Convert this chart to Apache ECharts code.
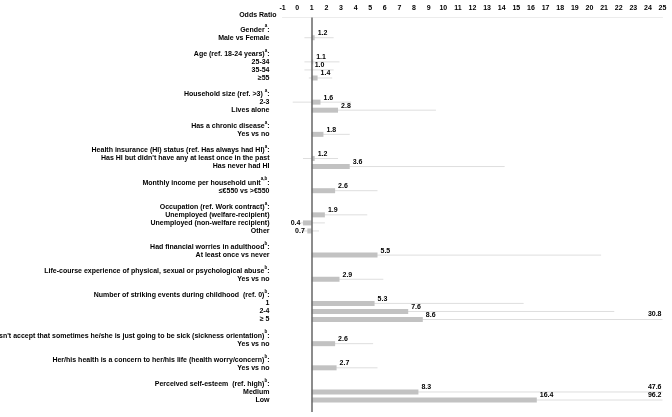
<!DOCTYPE html>
<html>
<head>
<meta charset="utf-8">
<script src="https://cdn.jsdelivr.net/npm/echarts@6/dist/echarts.min.js"></script>
<style>
html,body{margin:0;padding:0;background:#fff;}
#chart{width:672px;height:417px;}
</style>
</head>
<body>
<div id="chart"></div>
<script>
// Row labels (top to bottom); '' = spacer row
const rowLabels = [
  '',
  'Gender', 'Male vs Female',
  '',
  'Age (ref. 18-24 years)', '25-34', '35-54', '\u226555',
  '',
  'Household size (ref. >3) ', '2-3', 'Lives alone',
  '',
  'Has a chronic disease', 'Yes vs no',
  '',
  'Health insurance (HI) status (ref. Has always had HI)', "Has HI but didn't have any at least once in the past", 'Has never had HI',
  '',
  'Monthly income per household unit', '\u2264\u20ac550 vs >\u20ac550',
  '',
  'Occupation (ref. Work contract)', 'Unemployed (welfare-recipient)', 'Unemployed (non-welfare recipient)', 'Other',
  '',
  'Had financial worries in adulthood', 'At least once vs never',
  '',
  'Life-course experience of physical, sexual or psychological abuse', 'Yes vs no',
  '',
  'Number of striking events during childhood  (ref. 0)', '1', '2-4', '\u2265 5',
  '',
  "Doesn't accept that sometimes he/she is just going to be sick (sickness orientation)", 'Yes vs no',
  '',
  'Her/his health is a concern to her/his life (health worry/concern)', 'Yes vs no',
  '',
  'Perceived self-esteem  (ref. high)', 'Medium', 'Low',
  ''
];
// Superscript markers for header rows
const headerSup = [
  '', 'a', '', '', 'a', '', '', '', '', 'a', '', '', '', 'a', '', '',
  'a', '', '', '', 'a,b', '', '', 'a', '', '', '', '', 'b', '', '',
  'b', '', '', 'b', '', '', '', '', 'b', '', '', 'b', '', '', 'b', '', '', ''
];
// Odds ratios
const oddsRatio = [
  null, null, 1.2, null, null, 1.1, 1.0, 1.4, null, null, 1.6, 2.8, null, null, 1.8, null,
  null, 1.2, 3.6, null, null, 2.6, null, null, 1.9, 0.4, 0.7, null, null, 5.5, null,
  null, 2.9, null, null, 5.3, 7.6, 8.6, null, null, 2.6, null, null, 2.7, null, null, 8.3, 16.4, null
];
// 95% CI lower bounds
const ciLower = [
  null, null, 0.5, null, null, 0.5, 0.5, 0.8, null, null, -0.3, 1.3, null, null, 1.1, null,
  null, 0.4, 1.2, null, null, 1.4, null, null, 1.0, 0.1, 0.3, null, null, 1.4, null,
  null, 1.4, null, null, 1.8, 2.7, 2.4, null, null, 1.3, null, null, 1.3, null, null, 1.4, 2.8, null
];
// 95% CI upper bounds
const ciUpper = [
  null, null, 2.5, null, null, 2.9, 2.5, 2.4, null, null, 3.7, 9.5, null, null, 3.6, null,
  null, 2.8, 14.2, null, null, 5.5, null, null, 4.8, 1.9, 1.5, null, null, 20.8, null,
  null, 5.9, null, null, 15.5, 21.7, 30.8, null, null, 5.2, null, null, 5.5, null, null, 47.6, 96.2, null
];
const xTicksMin = -1, xTicksMax = 25, refValue = 1;

const FONT = '"Liberation Sans", Arial, Helvetica, sans-serif';
const rowIds = rowLabels.map((_, i) => 'r' + i);
const seriesData = [];
oddsRatio.forEach((v, i) => {
  if (v !== null) seriesData.push([i, v, ciLower[i], ciUpper[i]]);
});

const chart = echarts.init(document.getElementById('chart'), null, {renderer: 'canvas'});
chart.setOption({
  animation: false,
  backgroundColor: '#fff',
  grid: {left: 282.5, right: 9.5, top: 17.6, bottom: 4.9, containLabel: false, outerBoundsMode: 'none'},
  xAxis: {
    type: 'value', position: 'top', min: xTicksMin, max: xTicksMax, interval: 1,
    name: 'Odds Ratio', nameLocation: 'start', nameGap: 6,
    nameTextStyle: {fontFamily: FONT, fontSize: 7, fontWeight: 'bold', color: '#000', verticalAlign: 'bottom', padding: [0, 0, -1, 0]},
    axisLine: {show: true, lineStyle: {color: '#ececec', width: 1}},
    axisTick: {show: false},
    splitLine: {show: false},
    axisLabel: {fontFamily: FONT, fontSize: 7, fontWeight: 'bold', color: '#000', margin: 6}
  },
  yAxis: {
    type: 'category', inverse: true, data: rowIds,
    axisLine: {show: false}, axisTick: {show: false}, splitLine: {show: false},
    axisLabel: {
      interval: 0, margin: 13, fontFamily: FONT,
      formatter: function (val, idx) {
        const t = rowLabels[idx];
        if (!t) return '';
        const s = headerSup[idx];
        if (s) return '{h|' + t + '}{s|' + s + '}{h|:}';
        return '{h|' + t + '}';
      },
      rich: {
        h: {fontFamily: FONT, fontSize: 7, fontWeight: 'bold', color: '#000', lineHeight: 12},
        s: {fontFamily: FONT, fontSize: 4.5, fontWeight: 'bold', color: '#000', lineHeight: 12, verticalAlign: 'top'}
      }
    }
  },
  series: [{
    type: 'custom',
    clip: false,
    data: seriesData,
    encode: {y: 0, x: [1, 2, 3]},
    renderItem: function (params, api) {
      const cat = api.value(0), or = api.value(1), lo = api.value(2), hi = api.value(3);
      const base = api.coord([refValue, cat]);
      const end = api.coord([or, cat]);
      const pLo = api.coord([Math.max(lo, xTicksMin), cat]);
      const pHi = api.coord([Math.min(hi, xTicksMax), cat]);
      const bh = 5;
      const children = [
        {type: 'line', shape: {x1: pLo[0], y1: base[1], x2: pHi[0], y2: base[1]},
          style: {stroke: '#dedede', lineWidth: 1}, z2: 1},
        {type: 'rect', shape: {x: Math.min(base[0], end[0]), y: base[1] - bh / 2, width: Math.abs(end[0] - base[0]), height: bh},
          style: {fill: '#c2c2c2'}, z2: 2}
      ];
      if (or >= refValue) {
        children.push({type: 'text', x: end[0] + 3, y: base[1] - 4.5,
          style: {text: or.toFixed(1), fill: '#000', font: 'bold 7px ' + FONT, textAlign: 'left', textVerticalAlign: 'middle'}, z2: 3});
      } else {
        children.push({type: 'text', x: end[0] - 2.5, y: base[1],
          style: {text: or.toFixed(1), fill: '#000', font: 'bold 7px ' + FONT, textAlign: 'right', textVerticalAlign: 'middle'}, z2: 3});
      }
      if (hi > xTicksMax) {
        children.push({type: 'text', x: pHi[0] - 1, y: base[1] - 5,
          style: {text: hi.toFixed(1), fill: '#000', font: 'bold 7px ' + FONT, textAlign: 'right', textVerticalAlign: 'middle'}, z2: 3});
      }
      return {type: 'group', children: children};
    },
    markLine: {
      silent: true, symbol: 'none', animation: false,
      label: {show: false},
      lineStyle: {color: '#666', width: 1.5, type: 'solid'},
      data: [{xAxis: refValue}]
    }
  }]
});
</script>
</body>
</html>
